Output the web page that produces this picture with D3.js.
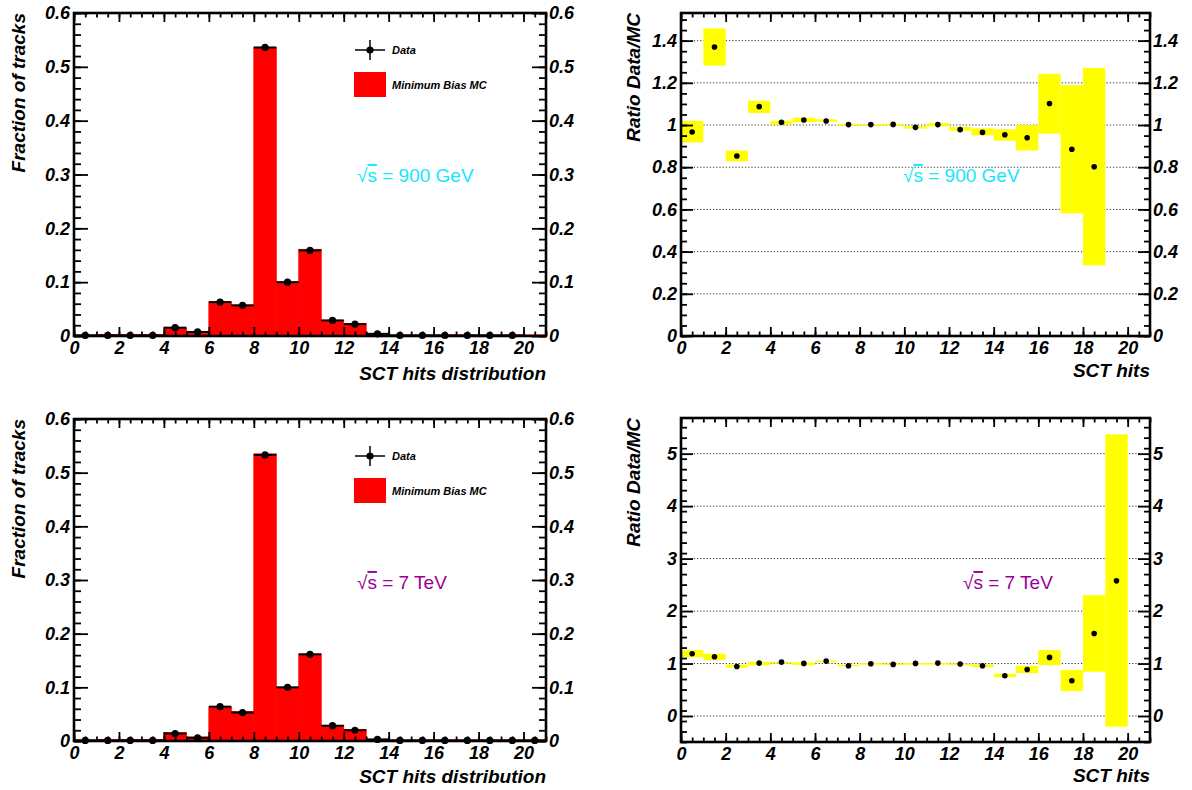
<!DOCTYPE html>
<html>
<head>
<meta charset="utf-8">
<script src="https://cdnjs.cloudflare.com/ajax/libs/d3/7.8.5/d3.min.js"></script>
<style>
  body { margin: 0; background: #fff; }
  svg { display: block; }
  text { font-family: "Liberation Sans", Arial, Helvetica, sans-serif; }
</style>
</head>
<body>
<svg id="chart" width="1192" height="790"></svg>
<script>
'use strict';

// lower edge of each SCT-hits bin (bin width 1)
const bins = [0, 1, 2, 3, 4, 5, 6, 7, 8, 9, 10, 11, 12, 13, 14, 15, 16, 17, 18, 19, 20];

// fraction of tracks, sqrt(s) = 900 GeV
const mc900 = [0.002, 0.003, 0.003, 0.003, 0.015, 0.007, 0.063, 0.057, 0.536, 0.100, 0.161,
  0.029, 0.023, 0.003, 0.002, 0.002, 0.002, 0.002, 0.002, 0.002, 0.002];
const data900 = [0.001, 0.001, 0.001, 0.001, 0.0155, 0.0075, 0.063, 0.057, 0.536, 0.100, 0.159,
  0.029, 0.022, 0.004, 0.001, 0.001, 0.001, 0.001, 0.001, 0.001, null];

// fraction of tracks, sqrt(s) = 7 TeV
const mc7 = [0.002, 0.003, 0.003, 0.003, 0.0155, 0.0075, 0.063, 0.055, 0.535, 0.100, 0.162,
  0.029, 0.0217, 0.003, 0.002, 0.002, 0.002, 0.002, 0.002, 0.002, 0.002];
const data7 = [0.001, 0.001, 0.001, 0.001, 0.014, 0.006, 0.064, 0.053, 0.533, 0.100, 0.1615,
  0.0285, 0.020, 0.003, 0.001, 0.001, 0.001, 0.001, 0.001, 0.001, 0.001];

// ratio data/MC with error band, 900 GeV (bins 0..18)
const ratio900 = [0.967, 1.370, 0.853, 1.087, 1.013, 1.024, 1.019, 1.002, 1.002, 1.003,
  0.989, 1.002, 0.978, 0.965, 0.954, 0.940, 1.102, 0.885, 0.802];
const ratio900Lo = [0.918, 1.282, 0.828, 1.057, 1.002, 1.014, 1.016, 0.998, 0.998, 0.998,
  0.983, 0.994, 0.973, 0.951, 0.926, 0.879, 0.959, 0.581, 0.335];
const ratio900Hi = [1.019, 1.458, 0.879, 1.115, 1.020, 1.035, 1.027, 1.006, 1.004, 1.006,
  0.995, 1.009, 0.991, 0.984, 0.980, 1.000, 1.243, 1.189, 1.271];

// ratio data/MC with error band, 7 TeV (bins 0..19)
const ratio7 = [1.187, 1.130, 0.945, 1.009, 1.028, 1.003, 1.047, 0.958, 0.996, 0.984,
  1.003, 1.009, 0.990, 0.958, 0.768, 0.888, 1.117, 0.673, 1.574, 2.576];
const ratio7Lo = [1.123, 1.066, 0.920, 0.971, 1.003, 0.970, 1.028, 0.952, 0.990, 0.970,
  0.990, 0.990, 0.970, 0.933, 0.742, 0.819, 0.971, 0.476, 0.844, -0.203];
const ratio7Hi = [1.256, 1.187, 0.977, 1.034, 1.034, 1.022, 1.053, 0.977, 1.009, 1.000,
  1.009, 1.009, 1.000, 0.983, 0.806, 0.958, 1.256, 0.876, 2.303, 5.368];

const xTicks = [0, 2, 4, 6, 8, 10, 12, 14, 16, 18, 20];
const fracTicks = [0, 0.1, 0.2, 0.3, 0.4, 0.5, 0.6];
const ratio900Ticks = [0, 0.2, 0.4, 0.6, 0.8, 1, 1.2, 1.4];
const ratio7Ticks = [0, 1, 2, 3, 4, 5];

const svg = d3.select('#chart');
const fmt = d3.format('~g');

function makePanel(p) { //{{{
  const x = d3.scaleLinear().domain([0, 21]).range([p.left, p.right]);
  const y = d3.scaleLinear().domain(p.yDomain).range([p.bottom, p.top]);
  const g = svg.append('g');
  const plot = g.append('g');
  const axes = g.append('g');

  const xMinor = d3.range(0, 21.01, 0.5);
  const yMinor = d3.range(p.yDomain[0], p.yDomain[1] + 1e-9, p.yMinorStep)
    .map(v => +v.toFixed(4))
    .filter(v => v >= p.yDomain[0] && v <= p.yDomain[1]);

  function styleAxis(sel) {
    sel.attr('font-family', null).attr('font-size', null);
    sel.select('.domain').remove();
    sel.selectAll('line').attr('stroke', '#000').attr('stroke-width', 1.8);
    sel.selectAll('text')
      .attr('font-size', 18)
      .attr('font-weight', 'bold')
      .attr('font-style', 'italic')
      .attr('fill', '#000');
  }

  // bottom
  axes.append('g').attr('transform', `translate(0,${p.bottom})`)
    .call(d3.axisBottom(x).tickValues(xMinor).tickSizeInner(-4.5).tickSizeOuter(0).tickFormat(''))
    .call(styleAxis);
  axes.append('g').attr('transform', `translate(0,${p.bottom})`)
    .call(d3.axisBottom(x).tickValues(xTicks).tickSizeInner(-9).tickSizeOuter(0)
      .tickPadding(5).tickFormat(fmt))
    .call(styleAxis);
  // top
  axes.append('g').attr('transform', `translate(0,${p.top})`)
    .call(d3.axisTop(x).tickValues(xMinor).tickSizeInner(-4.5).tickSizeOuter(0).tickFormat(''))
    .call(styleAxis);
  axes.append('g').attr('transform', `translate(0,${p.top})`)
    .call(d3.axisTop(x).tickValues(xTicks).tickSizeInner(-9).tickSizeOuter(0).tickFormat(''))
    .call(styleAxis);
  // left
  axes.append('g').attr('transform', `translate(${p.left},0)`)
    .call(d3.axisLeft(y).tickValues(yMinor).tickSizeInner(-p.tick / 2).tickSizeOuter(0).tickFormat(''))
    .call(styleAxis);
  axes.append('g').attr('transform', `translate(${p.left},0)`)
    .call(d3.axisLeft(y).tickValues(p.yTicks).tickSizeInner(-p.tick).tickSizeOuter(0)
      .tickPadding(4).tickFormat(fmt))
    .call(styleAxis);
  // right
  axes.append('g').attr('transform', `translate(${p.right},0)`)
    .call(d3.axisRight(y).tickValues(yMinor).tickSizeInner(-p.tick / 2).tickSizeOuter(0).tickFormat(''))
    .call(styleAxis);
  axes.append('g').attr('transform', `translate(${p.right},0)`)
    .call(d3.axisRight(y).tickValues(p.yTicks).tickSizeInner(-p.tick).tickSizeOuter(0)
      .tickPadding(3).tickFormat(fmt))
    .call(styleAxis);

  axes.append('rect')
    .attr('x', p.left).attr('y', p.top)
    .attr('width', p.right - p.left).attr('height', p.bottom - p.top)
    .attr('fill', 'none').attr('stroke', '#000').attr('stroke-width', 2.6);

  // axis titles
  g.append('text')
    .attr('x', p.right).attr('y', p.xTitleY)
    .attr('text-anchor', 'end')
    .attr('font-size', 19).attr('font-weight', 'bold').attr('font-style', 'italic')
    .text(p.xTitle);
  g.append('text')
    .attr('transform', `translate(${p.yTitleX},${p.top}) rotate(-90)`)
    .attr('text-anchor', 'end')
    .attr('font-size', 19).attr('font-weight', 'bold').attr('font-style', 'italic')
    .text(p.yTitle);

  // energy label
  const lab = g.append('text')
    .attr('x', p.labelX).attr('y', p.labelY)
    .attr('font-size', 19).attr('fill', p.labelColor);
  lab.append('tspan').text('\u221A');
  lab.append('tspan').style('text-decoration', 'overline').text('s');
  lab.append('tspan').text(p.labelText);

  return { x, y, plot, g };
} //}}}

function histPanel(p, mc, data) { //{{{
  const { x, y, plot, g } = makePanel(p);

  plot.selectAll('rect.mc')
    .data(bins)
    .join('rect')
    .attr('class', 'mc')
    .attr('x', d => x(d))
    .attr('width', d => x(d + 1) - x(d))
    .attr('y', (d, i) => y(mc[i]))
    .attr('height', (d, i) => y(0) - y(mc[i]))
    .attr('fill', '#ff0000')
    .attr('stroke', '#ff0000')
    .attr('stroke-width', 0.8);

  const pts = bins.map((d, i) => ({ lo: d, v: data[i] })).filter(d => d.v !== null);
  plot.selectAll('line.err')
    .data(pts)
    .join('line')
    .attr('x1', d => x(d.lo)).attr('x2', d => x(d.lo + 1))
    .attr('y1', d => y(d.v)).attr('y2', d => y(d.v))
    .attr('stroke', '#000').attr('stroke-width', 2);
  plot.selectAll('circle')
    .data(pts)
    .join('circle')
    .attr('cx', d => x(d.lo + 0.5))
    .attr('cy', d => y(d.v))
    .attr('r', 3.6)
    .attr('fill', '#000');

  // legend
  const lx = 354, ly = p.top + 37;
  const leg = g.append('g');
  leg.append('line').attr('x1', lx + 1).attr('x2', lx + 31).attr('y1', ly).attr('y2', ly)
    .attr('stroke', '#000').attr('stroke-width', 1.5);
  leg.append('line').attr('x1', lx + 16).attr('x2', lx + 16).attr('y1', ly - 10).attr('y2', ly + 10)
    .attr('stroke', '#000').attr('stroke-width', 1.5);
  leg.append('circle').attr('cx', lx + 16).attr('cy', ly).attr('r', 3.6).attr('fill', '#000');
  leg.append('rect').attr('x', lx).attr('y', ly + 22).attr('width', 32).attr('height', 25)
    .attr('fill', '#ff0000');
  leg.selectAll('text')
    .data(['Data', 'Minimum Bias MC'])
    .join('text')
    .attr('x', lx + 38)
    .attr('y', (d, i) => ly + 4 + i * 35)
    .attr('font-size', 11).attr('font-weight', 'bold').attr('font-style', 'italic')
    .text(d => d);
} //}}}

function ratioPanel(p, val, lo, hi) { //{{{
  const { x, y, plot } = makePanel(p);

  plot.selectAll('line.grid')
    .data(p.yTicks)
    .join('line')
    .attr('x1', p.left).attr('x2', p.right)
    .attr('y1', d => y(d)).attr('y2', d => y(d))
    .attr('stroke', '#333').attr('stroke-width', 1)
    .attr('stroke-dasharray', '1.2,2');

  const pts = val.map((v, i) => ({ lo: bins[i], v, a: lo[i], b: hi[i] }));
  plot.selectAll('rect.band')
    .data(pts)
    .join('rect')
    .attr('x', d => x(d.lo))
    .attr('width', d => x(d.lo + 1) - x(d.lo))
    .attr('y', d => y(d.b))
    .attr('height', d => Math.max(1.5, y(d.a) - y(d.b)))
    .attr('fill', '#ffff00');
  plot.selectAll('circle')
    .data(pts)
    .join('circle')
    .attr('cx', d => x(d.lo + 0.5))
    .attr('cy', d => y(d.v))
    .attr('r', 2.8)
    .attr('fill', '#000');
} //}}}

const cyan = '#14e6ff';
const purple = '#990099';

histPanel({
  left: 74, right: 546, top: 13, bottom: 336,
  yDomain: [0, 0.6], yTicks: fracTicks, yMinorStep: 0.02, tick: 14,
  xTitle: 'SCT hits distribution', xTitleY: 380,
  yTitle: 'Fraction of tracks', yTitleX: 25,
  labelX: 357, labelY: 182, labelColor: cyan, labelText: ' = 900 GeV',
}, mc900, data900);

histPanel({
  left: 74, right: 546, top: 419, bottom: 741,
  yDomain: [0, 0.6], yTicks: fracTicks, yMinorStep: 0.02, tick: 14,
  xTitle: 'SCT hits distribution', xTitleY: 783,
  yTitle: 'Fraction of tracks', yTitleX: 25,
  labelX: 357, labelY: 589, labelColor: purple, labelText: ' = 7 TeV',
}, mc7, data7);

ratioPanel({
  left: 681, right: 1150, top: 13, bottom: 336,
  yDomain: [0, 1.531], yTicks: ratio900Ticks, yMinorStep: 0.05, tick: 12,
  xTitle: 'SCT hits', xTitleY: 377,
  yTitle: 'Ratio Data/MC', yTitleX: 640,
  labelX: 903, labelY: 182, labelColor: cyan, labelText: ' = 900 GeV',
}, ratio900, ratio900Lo, ratio900Hi);

ratioPanel({
  left: 681, right: 1150, top: 418, bottom: 742,
  yDomain: [-0.495, 5.68], yTicks: ratio7Ticks, yMinorStep: 0.2, tick: 12,
  xTitle: 'SCT hits', xTitleY: 782,
  yTitle: 'Ratio Data/MC', yTitleX: 640,
  labelX: 963, labelY: 589, labelColor: purple, labelText: ' = 7 TeV',
}, ratio7, ratio7Lo, ratio7Hi);
</script>
</body>
</html>
